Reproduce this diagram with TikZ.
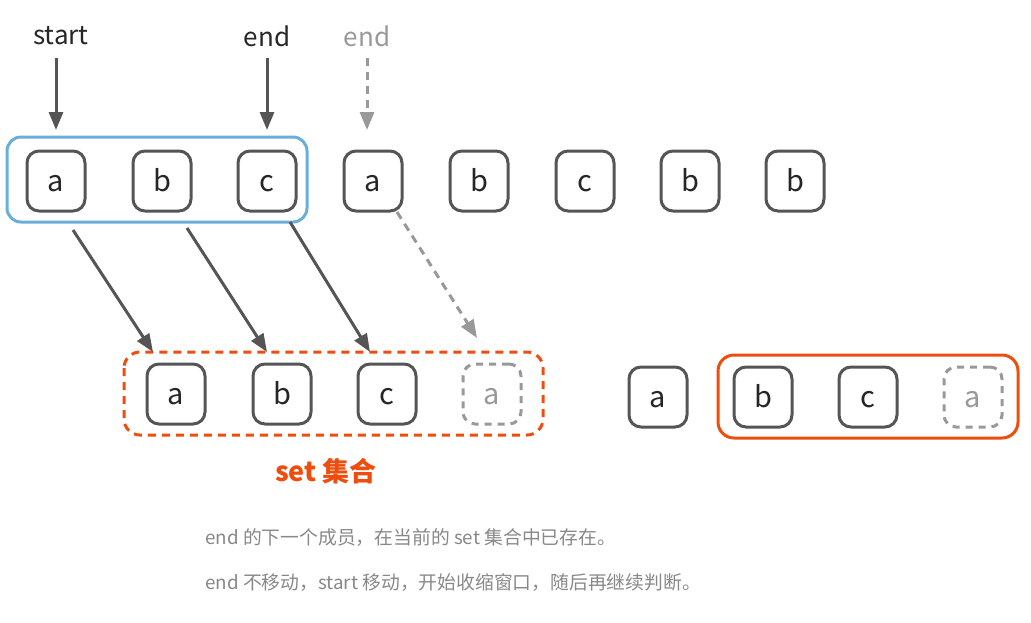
\documentclass[tikz,border=0pt]{standalone}
\usepackage{fontspec}
\setmainfont{Noto Sans CJK SC}
\usetikzlibrary{arrows.meta}
\definecolor{boxgray}{HTML}{555555}
\definecolor{lightgray}{HTML}{999999}
\definecolor{skyblue}{HTML}{6AAEDB}
\definecolor{redorange}{HTML}{EE4D0E}
\definecolor{txtgray}{HTML}{888888}
\tikzset{
  cellbase/.style={line width=1.5pt, rounded corners=6pt, minimum width=29pt, minimum height=30pt, inner sep=0pt, text height=10pt, text depth=0pt, font=\fontsize{14.5}{16}\selectfont},
  cell/.style={cellbase, draw=boxgray, text=black!85},
  ghost/.style={cellbase, draw=lightgray, dash pattern=on 3.5pt off 3pt, text=lightgray},
  ptr/.style={font=\fontsize{13}{15}\selectfont, text=black!85},
  arr/.style={draw=boxgray, line width=1.5pt, -{Triangle[length=9pt,width=7pt]}},
  garr/.style={draw=lightgray, line width=1.5pt, dash pattern=on 4pt off 3pt, -{Triangle[length=9pt,width=7pt]}},
  note/.style={font=\fontsize{9.4}{11}\selectfont, text=txtgray, anchor=west, inner sep=0pt},
}
\begin{document}
\begin{tikzpicture}[x=0.5pt,y=-0.5pt]
\useasboundingbox (0,0) rectangle (1031,622);
% top row
\node[cell] (t1) at (56,181) {a};
\node[cell] (t2) at (162,181) {b};
\node[cell] (t3) at (267,181) {c};
\node[cell] (t4) at (373,181) {a};
\node[cell] (t5) at (479,181) {b};
\node[cell] (t6) at (585,181) {c};
\node[cell] (t7) at (690,181) {b};
\node[cell] (t8) at (795,181) {b};
\draw[draw=skyblue, line width=1.5pt, rounded corners=7pt] (7,137) rectangle (307,222);
% pointers
\node[ptr] (start) at (61,36) {start};
\node[ptr] (end) at (267,36) {end};
\node[ptr, text=lightgray] (end2) at (367,36) {end};
\coordinate (s0) at (56,58); \coordinate (s1) at (56,130);
\coordinate (e0) at (267,58); \coordinate (e1) at (267,130);
\coordinate (g0) at (367,58); \coordinate (g1) at (367,130);
\draw[arr] (s0) -- (s1);
\draw[arr] (e0) -- (e1);
\draw[garr] (g0) -- (g1);
% bottom left row
\node[cell] (b1) at (176,394) {a};
\node[cell] (b2) at (282,394) {b};
\node[cell] (b3) at (387,394) {c};
\node[ghost] (b4) at (492,394) {a};
\draw[draw=redorange, line width=1.5pt, dash pattern=on 4pt off 3pt, rounded corners=8pt] (124,352) rectangle (543,435);
\node[font=\bfseries\fontsize{13.5}{15}\selectfont, text=redorange] (setlbl) at (326,471) {set 集合};
% diagonal arrows
\coordinate (d1a) at (73,230); \coordinate (d1b) at (153,352);
\coordinate (d2a) at (187,228); \coordinate (d2b) at (267,352);
\coordinate (d3a) at (290,222); \coordinate (d3b) at (370,352);
\coordinate (d4a) at (397,212); \coordinate (d4b) at (477,338);
\draw[arr] (d1a) -- (d1b);
\draw[arr] (d2a) -- (d2b);
\draw[arr] (d3a) -- (d3b);
\draw[garr] (d4a) -- (d4b);
% bottom right row
\node[cell] (r1) at (658,397) {a};
\node[cell] (r2) at (763,397) {b};
\node[cell] (r3) at (868,397) {c};
\node[ghost] (r4) at (973,397) {a};
\draw[draw=redorange, line width=1.5pt, rounded corners=8pt] (718,355) rectangle (1018,438);
% notes
\node[note] (n1) at (205,538) {end 的下一个成员，在当前的 set 集合中已存在。};
\node[note] (n2) at (205,583) {end 不移动，start 移动，开始收缩窗口，随后再继续判断。};
\end{tikzpicture}
\end{document}
